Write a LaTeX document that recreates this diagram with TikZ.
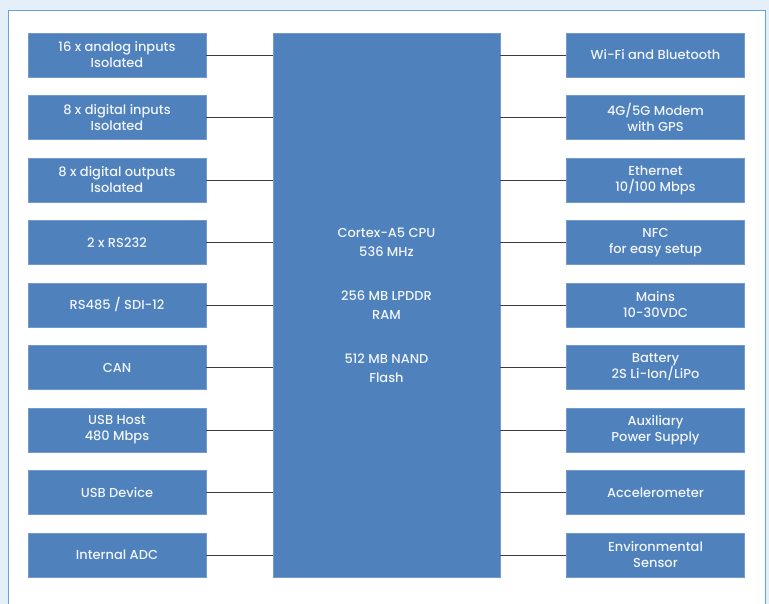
\documentclass[tikz,border=0pt]{standalone}
\usepackage{fontspec}
\setmainfont{Poppins}[UprightFont=*-Medium]
\definecolor{boxblue}{RGB}{79,129,189}
\definecolor{bgblue}{RGB}{228,239,249}
\definecolor{frameblue}{RGB}{100,164,218}
\definecolor{linegray}{RGB}{60,60,60}
\begin{document}
\begin{tikzpicture}[x=1pt,y=-1pt,
  blk/.style={fill=boxblue,draw=boxblue!80!white,line width=0.6pt,text=white!92!boxblue,font=\fontsize{13}{16}\selectfont,align=center,minimum width=178pt,minimum height=44pt,inner sep=0pt},
  cpu/.style={fill=boxblue,draw=boxblue!80!white,line width=0.6pt,text=white!92!boxblue,font=\fontsize{13}{19}\selectfont,align=center,minimum width=227pt,minimum height=544pt,inner sep=0pt},
  link/.style={draw=linegray,line width=0.8pt}]
\useasboundingbox (0,0) rectangle (769,604);
\fill[bgblue] (0,0) rectangle (769,604);
\draw[frameblue,fill=white,line width=1pt] (8.5,10.5) rectangle (765,620);
\node[cpu] (cpu) at (386.5,305) {Cortex-A5 CPU\\536 MHz\\[25pt]256 MB LPDDR\\RAM\\[25pt]512 MB NAND\\Flash};
\foreach \t [count=\i] in {{16 x analog inputs\\Isolated},{8 x digital inputs\\Isolated},{8 x digital outputs\\Isolated},{2 x RS232},{RS485 / SDI-12},{CAN},{USB Host\\480 Mbps},{USB Device},{Internal ADC}} {
  \node[blk] (L\i) at (117,{55+(\i-1)*62.5}) {\t};
  \draw[link] (L\i.east) -- (L\i.east -| cpu.west);
}
\foreach \t [count=\i] in {{Wi-Fi and Bluetooth},{4G/5G Modem\\with GPS},{Ethernet\\10/100 Mbps},{NFC\\for easy setup},{Mains\\10-30VDC},{Battery\\2S Li-Ion/LiPo},{Auxiliary\\Power Supply},{Accelerometer},{Environmental\\Sensor}} {
  \node[blk] (R\i) at (655.5,{55+(\i-1)*62.5}) {\t};
  \draw[link] (R\i.west) -- (R\i.west -| cpu.east);
}
\end{tikzpicture}
\end{document}
